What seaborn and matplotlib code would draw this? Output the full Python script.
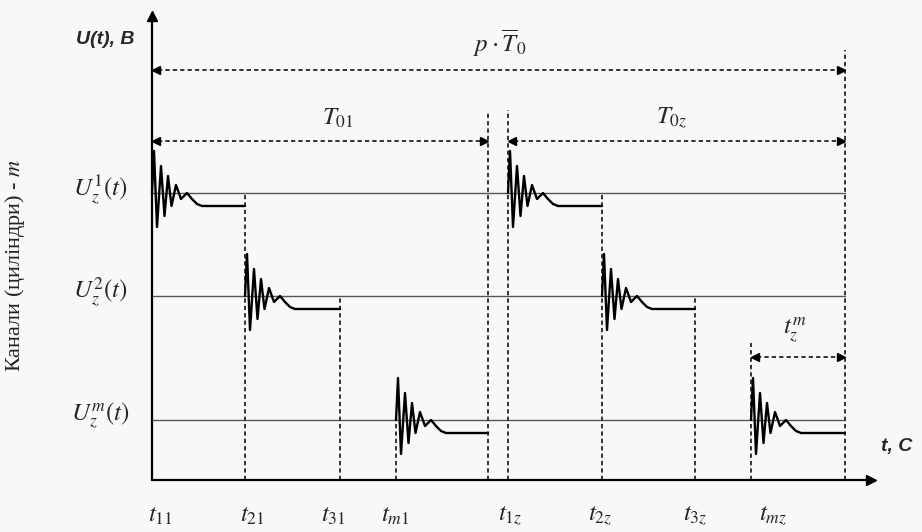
import numpy as np
import pandas as pd
import seaborn as sns
import matplotlib.pyplot as plt

# moments on the time axis (units ~ pixels from origin)
t_ticks = [0, 93, 188, 244, 356, 450, 543, 599]
t_labels = [r"$t_{11}$", r"$t_{21}$", r"$t_{31}$", r"$t_{m1}$",
            r"$t_{1z}$", r"$t_{2z}$", r"$t_{3z}$", r"$t_{mz}$"]
t_end = 693

# channels (cylinders)
channel_names = [r"$U_z^1(t)$", r"$U_z^2(t)$", r"$U_z^m(t)$"]
channel_levels = [287, 184, 60]

# pulses: channel index, start, end
pulse_channel = [0, 1, 2, 0, 1, 2]
pulse_start = [0, 93, 244, 356, 450, 599]
pulse_end = [93, 188, 336, 450, 543, 693]

# one transient (offset from start, offset from channel level)
shape_dt = [0, 2, 5, 9, 12.5, 16, 19.5, 24, 29, 35, 40, 45, 50]
shape_dy = [0, 42, -34, 27, -23, 17, -13, 8, -6, 0, -6, -11, -13]

# dashed marker lines: x and top
vline_x = [93, 188, 244, 336, 356, 450, 543, 599, 693]
vline_top = [287, 184, 60, 368, 370, 287, 184, 137, 430]

# dimension arrows
dim_y = [410, 339, 339, 123]
dim_from = [0, 0, 356, 599]
dim_to = [693, 336, 693, 693]
dim_labels = [r"$p\cdot\overline{T}_0$", r"$T_{01}$", r"$T_{0z}$", r"$t_z^m$"]

sns.set_theme(style="white")
plt.rcParams["mathtext.fontset"] = "stix"
plt.rcParams["font.family"] = ["Liberation Serif", "DejaVu Serif"]

# build the pulse table
rows = []
for i in range(len(pulse_start)):
    lvl = channel_levels[pulse_channel[i]]
    for dt, dy in zip(shape_dt, shape_dy):
        rows.append({"t": pulse_start[i] + dt, "u": lvl + dy, "pulse": i})
    rows.append({"t": pulse_end[i], "u": lvl + shape_dy[-1], "pulse": i})
df = pd.DataFrame(rows)

fig = plt.figure(figsize=(9.22, 5.32), dpi=100)
fig.patch.set_facecolor("#f8f8f8")
ax = fig.add_axes([0, 0, 1, 1])
ax.set_facecolor("#f8f8f8")
ax.set_xlim(-152, 770)
ax.set_ylim(-52, 480)
ax.axis("off")

dash = (0, (2.2, 1.6))
dcol = "#333333"

# channel baselines
for lvl in channel_levels:
    ax.plot([0, t_end], [lvl, lvl], color="#555555", lw=1.0, zorder=2)

# dashed verticals
for x, top in zip(vline_x, vline_top):
    ax.plot([x, x], [0, top], color=dcol, lw=1.4, ls=dash, zorder=2)

# transients
sns.lineplot(data=df, x="t", y="u", units="pulse", estimator=None, sort=False,
             color="black", lw=1.7, ax=ax, zorder=3)
ax.axis("off")

# dimension arrows
for y, a, b in zip(dim_y, dim_from, dim_to):
    ax.plot([a + 6, b - 6], [y, y], color=dcol, lw=1.4, ls=dash)
    ax.plot([a + 4], [y], marker="<", ms=6, color="black", mec="black")
    ax.plot([b - 4], [y], marker=">", ms=6, color="black", mec="black")
dim_label_x = [348, 186, 520, 643]
dim_label_y = [437, 362, 362, 150]
for lab, x, y in zip(dim_labels, dim_label_x, dim_label_y):
    ax.text(x, y, lab, fontsize=18, ha="center", va="center")

# axes with arrows
ax.plot([0, 0], [0, 462], color="black", lw=1.6)
ax.plot([0], [464], marker="^", ms=7, color="black")
ax.plot([0, 717], [0, 0], color="black", lw=1.6)
ax.plot([719], [0], marker=">", ms=7, color="black")

ax.text(-47, 440, "U(t), B", fontsize=14, fontweight="bold", fontstyle="italic",
        family="Liberation Sans", ha="center", va="center")
ax.text(745, 33, "t, C", fontsize=14, fontweight="bold", fontstyle="italic",
        family="Liberation Sans", ha="center", va="center")

# tick labels along time axis
tick_label_x = [8, 100, 181, 243, 358, 448, 543, 621]
for lab, x in zip(t_labels, tick_label_x):
    ax.text(x, -36, lab, fontsize=18, ha="center", va="center")

# channel labels
for lab, lvl in zip(channel_names, channel_levels):
    ax.text(-52, lvl + 4, lab, fontsize=18, ha="center", va="center")

ax.text(-137, 215, "Канали (циліндри) - $m$", rotation=90, fontsize=16,
        ha="center", va="center", color="#222222")

fig.savefig("out.png", dpi=100, facecolor=fig.get_facecolor())
